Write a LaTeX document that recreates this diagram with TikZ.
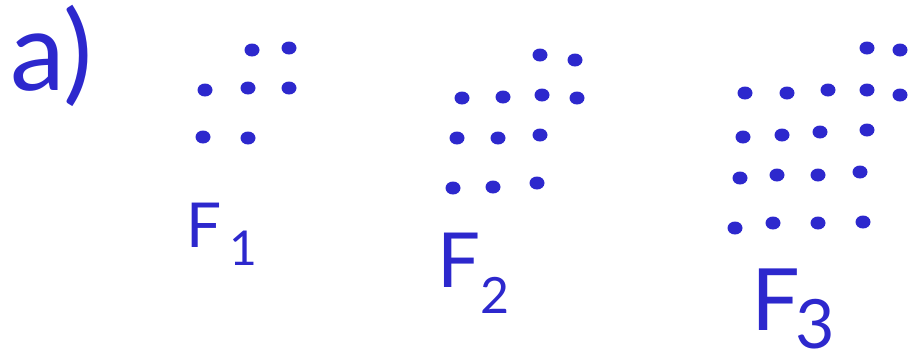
\documentclass[tikz,border=0pt]{standalone}
\usepackage{fontspec}
\setmainfont{Lato}
\definecolor{ink}{RGB}{45,40,205}
\tikzset{
  dot/.style={fill=ink,draw=none},
  hand/.style={text=ink,inner sep=0pt,anchor=base west}
}
\newcommand{\sub}[3]{\raisebox{-#2}{\fontsize{#1}{#1}\selectfont #3}}

\begin{document}
\begin{tikzpicture}[x=1pt,y=-1pt]
\useasboundingbox (0,0) rectangle (909,362);
% ---------- a) ----------
\node[hand] (parta) at (10,90) {\fontsize{110}{110}\selectfont a)};
% ---------- F1 ----------
\foreach \x/\y in {252/50,289/48,
                   205/90,248/88,289/88,
                   203/137,248/138}
  \fill[dot] (\x,\y) ellipse [x radius=7.5pt,y radius=6.5pt];
\node[hand] (labelA) at (186,247) {\fontsize{62}{62}\selectfont F\kern8pt\sub{48}{18pt}{1}};
% ---------- F2 ----------
\foreach \x/\y in {540/55,575/60,
                   462/98,503/97,542/95,577/98,
                   457/138,498/138,540/135,
                   453/188,493/187,537/183}
  \fill[dot] (\x,\y) ellipse [x radius=7.5pt,y radius=6.5pt];
\node[hand] (labelB) at (437,287) {\fontsize{76}{76}\selectfont F\kern0pt\sub{50}{26pt}{2}};
% ---------- F3 ----------
\foreach \x/\y in {867/48,900/50,
                   745/93,787/93,828/90,867/90,900/95,
                   743/137,782/135,820/132,867/130,
                   740/178,777/175,818/175,860/172,
                   735/228,773/223,818/223,863/222}
  \fill[dot] (\x,\y) ellipse [x radius=7.5pt,y radius=6.5pt];
\node[hand] (labelC) at (751,330) {\fontsize{86}{86}\selectfont F\kern-4pt\sub{68}{18pt}{3}};
\end{tikzpicture}
\end{document}
